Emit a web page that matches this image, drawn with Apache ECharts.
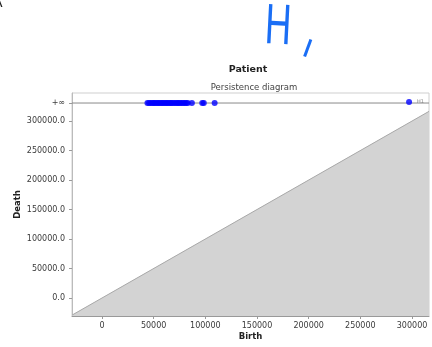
<!DOCTYPE html>
<html>
<head>
<meta charset="utf-8">
<script src="https://cdn.jsdelivr.net/npm/echarts@6/dist/echarts.min.js"></script>
<style>html,body{margin:0;padding:0;background:#fff}#c{width:432px;height:347px}</style>
</head>
<body>
<div id="c"></div>
<script>
// Axis ranges and ticks
var xRange = [-29000, 316400];
var yRange = [-30500, 347500];
var xTicks = [0, 50000, 100000, 150000, 200000, 250000, 300000];
var yTicks = [0, 50000, 100000, 150000, 200000, 250000, 300000];
var INF = 330500; // position of the +inf row
// Births of the H1 features with infinite death
var births = [44000, 45500, 47000, 48500, 50000, 51000, 52500, 54000, 55000, 56500,
  58000, 59000, 60500, 62000, 63000, 64500, 66000, 67000, 68500, 70000, 71500, 73000,
  74000, 75500, 77000, 78500, 80000, 81500, 83000, 87000, 97000, 98500, 109000];
// Diagonal (birth = death)
var diag = [[xRange[0], xRange[0]], [xRange[1], xRange[1]]];
var infLine = [[xRange[0], INF], [xRange[1], INF]];

var chart = echarts.init(document.getElementById('c'), null, {renderer: 'canvas'});
var font = 'DejaVu Sans';
chart.setOption({
  animation: false,
  backgroundColor: '#fff',
  title: [
    {text: 'Patient', left: 243, top: 60, textAlign: 'center',
     textStyle: {fontFamily: font, fontSize: 9.5, fontWeight: 'bold', color: '#222'}},
    {text: 'Persistence diagram', left: 249, top: 78, textAlign: 'center',
     textStyle: {fontFamily: font, fontSize: 8.5, fontWeight: 'normal', color: '#444'}}
  ],
  grid: {left: 72, right: 3, top: 93, bottom: 31, show: true, borderColor: '#cfcfcf', borderWidth: 1,
         containLabel: false, outerBoundsMode: 'none'},
  legend: {
    right: 6, top: 97, orient: 'vertical', itemWidth: 6, itemHeight: 6, icon: 'circle',
    textStyle: {fontFamily: font, fontSize: 5, color: '#888'}, itemGap: 2, padding: 2,
    data: ['H1']
  },
  xAxis: {
    type: 'value', min: xRange[0], max: xRange[1],
    name: 'Birth', nameLocation: 'middle', nameGap: 16, nameMoveOverlap: false,
    nameTextStyle: {fontFamily: font, fontSize: 8.5, fontWeight: 'bold', color: '#222'},
    axisLine: {show: true, onZero: false, lineStyle: {color: '#999', width: 1}},
    axisTick: {show: true, length: 3, lineStyle: {color: '#999'}, customValues: xTicks},
    axisLabel: {fontFamily: font, fontSize: 8, color: '#3a3a3a', margin: 6, customValues: xTicks,
      hideOverlap: false, formatter: function (v) { return String(v); }},
    splitLine: {show: false}
  },
  yAxis: {
    type: 'value', min: yRange[0], max: yRange[1],
    name: 'Death', nameLocation: 'middle', nameGap: 50, nameMoveOverlap: false,
    nameTextStyle: {fontFamily: font, fontSize: 8.5, fontWeight: 'bold', color: '#222'},
    axisLine: {show: true, onZero: false, lineStyle: {color: '#bbb', width: 1}},
    axisTick: {show: true, length: 3, lineStyle: {color: '#999'}, customValues: yTicks.concat([INF])},
    axisLabel: {fontFamily: font, fontSize: 8, color: '#3a3a3a', margin: 7,
      customValues: yTicks.concat([INF]),
      formatter: function (v) { return v === INF ? '+\u221e' : v.toFixed(1); }},
    splitLine: {show: false}
  },
  series: [
    {type: 'line', data: diag, symbol: 'none', silent: true,
     lineStyle: {color: '#a8a8a8', width: 1},
     areaStyle: {color: '#d3d3d3', opacity: 1, origin: 'start'}, z: 1},
    {type: 'line', data: infLine, symbol: 'none', silent: true,
     lineStyle: {color: '#8a8a8a', width: 1}, z: 2},
    {name: 'H1', type: 'scatter', data: births.map(function (b) { return [b, INF]; }),
     symbol: 'circle', symbolSize: 6, itemStyle: {color: '#0000ff'}, z: 3}
  ],
  graphic: [
    {type: 'text', left: 263, top: 0, rotation: -0.05, scaleX: 0.68,
     style: {text: 'H', fontFamily: 'Noto Sans', fontSize: 55, fontWeight: 'normal', fill: '#1a6ef5'}},
    {type: 'text', left: 298, top: 30, rotation: -0.35,
     style: {text: 'ı', fontFamily: 'Noto Sans', fontSize: 34, fontWeight: 'normal', fill: '#1a6ef5'}},
    {type: 'text', left: -7, top: -4,
     style: {text: 'A', fontFamily: font, fontSize: 14, fill: '#222'}}
  ]
});
</script>
</body>
</html>
